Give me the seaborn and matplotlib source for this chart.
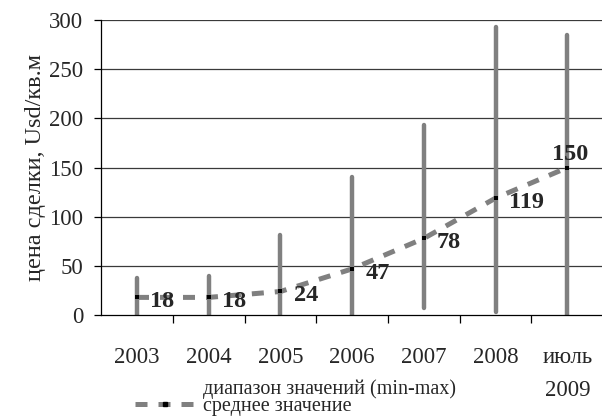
import numpy as np
import matplotlib
matplotlib.use("Agg")
import matplotlib.pyplot as plt
import seaborn as sns
from matplotlib.lines import Line2D

# данные
years = ["2003", "2004", "2005", "2006", "2007", "2008", "июль\n2009"]
price_min = [0, 0, 0, 0, 7, 3, 0]
price_max = [38, 40, 81, 140, 193, 293, 285]
price_mean = [18, 18, 24, 47, 78, 119, 150]

sns.set_style("white")
plt.rcParams["font.family"] = ["Liberation Serif", "DejaVu Serif"]

fig = plt.figure(figsize=(6.02, 4.19), dpi=100)
ax = fig.add_axes([0.168, 0.248, 0.834, 0.704])

pos = np.arange(len(years))
dash = (0, (2.4, 2.2))

# горизонтальная сетка
for v in range(50, 301, 50):
    ax.axhline(v, color="#3a3a3a", linewidth=0.9, zorder=0)

# диапазон (min-max)
ax.vlines(pos, price_min, price_max, color="#808080", linewidth=3.2,
          capstyle="round", zorder=2)

# среднее значение
sns.lineplot(x=pos, y=price_mean, ax=ax, color="#808080", linewidth=3.6,
             linestyle=dash, zorder=3)
ax.lines[-1].set_dash_capstyle("butt")
sns.scatterplot(x=pos, y=price_mean, ax=ax, color="black", marker="s",
                s=9, linewidth=0, zorder=4)

for i, v in enumerate(price_mean):
    if i == len(price_mean) - 1:
        ax.annotate(str(v), (pos[i], v), xytext=(2, 2), textcoords="offset points",
                    ha="center", va="bottom", fontsize=17.5, fontweight="bold")
    else:
        ax.annotate(str(v), (pos[i], v), xytext=(9.5, -3), textcoords="offset points",
                    ha="left", va="center", fontsize=17.5, fontweight="bold")

ax.set_xlim(-0.5, len(years) - 0.5)
ax.set_ylim(0, 300)
ax.set_yticks(range(0, 301, 50))
ax.tick_params(axis="y", labelsize=16.5, length=5, width=0.9, pad=8, color="black", left=True)
ax.set_xticks(pos)
ax.set_xticklabels(years)
ax.set_xticks(np.arange(0.5, len(years) - 1, 1), minor=True)
ax.tick_params(axis="x", which="major", length=0, labelsize=16.5, pad=23)
ax.tick_params(axis="x", which="minor", length=6, width=0.9, color="black", bottom=True)
for lbl in ax.get_xticklabels():
    lbl.set_linespacing(1.75)
ax.set_ylabel("цена сделки, Usd/кв.м", fontsize=17.5, labelpad=2)

for side in ["top", "right"]:
    ax.spines[side].set_visible(False)
for side in ["left", "bottom"]:
    ax.spines[side].set_color("black")
    ax.spines[side].set_linewidth(0.9)

handles = [
    Line2D([], [], linestyle="none"),
    Line2D([], [], color="#808080", linewidth=3.6, linestyle=dash,
           marker="s", markersize=3, markerfacecolor="black", markeredgecolor="black"),
]
fig.legend(handles, ["диапазон значений (min-max)", "среднее значение"],
           loc="upper left", bbox_to_anchor=(0.224, 0.095), frameon=False,
           fontsize=14.5, handlelength=3.0, handletextpad=0.4, labelspacing=-0.08,
           borderpad=0, borderaxespad=0)

fig.savefig("out.png", dpi=100)
